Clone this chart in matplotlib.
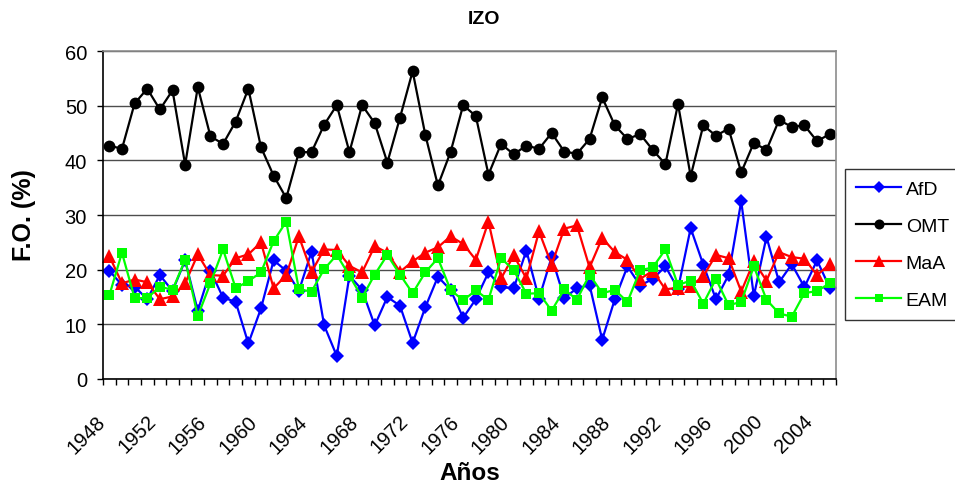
import numpy as np
import matplotlib
matplotlib.use("Agg")
import matplotlib.pyplot as plt
from matplotlib.transforms import ScaledTranslation

plt.rcParams['font.family'] = ['Liberation Sans', 'DejaVu Sans']

years = list(range(1948, 2006))
tick_years = list(range(1948, 2005, 4))

afd = [19.8, 17.2, 16.9, 14.6, 19.0, 16.1, 21.7, 12.5, 19.8, 14.9,
       14.1, 6.5, 12.9, 21.7, 19.8, 16.1, 23.3, 9.8, 4.2, 18.9,
       16.3, 9.8, 15.0, 13.4, 6.6, 13.1, 18.7, 16.3, 11.2, 14.6,
       19.5, 16.8, 16.6, 23.5, 14.7, 22.3, 14.8, 16.6, 17.2, 7.2,
       14.6, 20.6, 17.1, 18.3, 20.6, 16.5, 27.6, 20.9, 14.6, 19.0,
       32.5, 15.2, 26.0, 17.7, 21.0, 16.8, 21.7, 16.7]
omt = [42.7, 42.1, 50.4, 53.1, 49.3, 52.8, 39.2, 53.4, 44.4, 43.0,
       47.1, 53.1, 42.4, 37.2, 33.1, 41.5, 41.5, 46.5, 50.1, 41.5,
       50.1, 46.8, 39.6, 47.8, 56.3, 44.7, 35.4, 41.5, 50.1, 48.1,
       37.4, 43.0, 41.1, 42.7, 42.1, 45.0, 41.6, 41.2, 43.9, 51.5,
       46.4, 43.9, 44.8, 41.9, 39.3, 50.3, 37.1, 46.4, 44.5, 45.8,
       37.8, 43.2, 41.9, 47.4, 46.1, 46.4, 43.5, 44.8]
maa = [22.5, 17.5, 18.2, 17.7, 14.6, 15.1, 17.5, 22.8, 19.0, 18.9,
       22.1, 22.8, 25.0, 16.6, 19.0, 26.1, 19.6, 23.7, 23.6, 20.7,
       19.5, 24.3, 23.1, 19.6, 21.5, 23.1, 24.1, 26.1, 24.7, 21.8,
       28.8, 18.4, 22.6, 18.4, 27.0, 20.9, 27.5, 28.1, 20.4, 25.8,
       23.2, 21.8, 18.3, 19.8, 16.4, 16.7, 17.0, 18.8, 22.7, 22.1,
       16.0, 21.5, 18.0, 23.2, 22.3, 22.0, 19.0, 21.0]
eam = [15.3, 23.1, 14.8, 14.8, 16.9, 16.3, 21.8, 11.5, 17.5, 23.7,
       16.6, 17.9, 19.5, 25.2, 28.8, 16.4, 16.0, 20.1, 22.7, 18.9,
       14.9, 19.1, 22.7, 19.1, 15.7, 19.5, 22.1, 16.3, 14.4, 16.2,
       14.5, 22.1, 19.9, 15.6, 15.7, 12.5, 16.4, 14.5, 19.1, 15.7,
       16.3, 14.1, 19.9, 20.4, 23.7, 17.2, 18.0, 13.8, 18.3, 13.5,
       14.1, 20.6, 14.5, 12.0, 11.4, 15.7, 16.1, 17.5]

series = [
    ("AfD", afd, "#0000FF", "D", 7.5),
    ("OMT", omt, "#000000", "o", 8.5),
    ("MaA", maa, "#FF0000", "^", 9.5),
    ("EAM", eam, "#00FF00", "s", 7.5),
]

fig = plt.figure(figsize=(9.55, 4.89), dpi=100)
ax = fig.add_axes([103/955, 1-380/489, (836-103)/955, (380-52)/489])

x = np.arange(len(years))
handles = []
for name, vals, col, mk, ms in series:
    h, = ax.plot(x, vals, color=col, marker=mk, markersize=ms, linewidth=1.6,
                 markeredgewidth=0, label=name, clip_on=False)
    handles.append(h)

ax.set_xlim(-0.5, len(years) - 0.5)
ax.set_ylim(0, 60)
ax.set_yticks(range(0, 61, 10))
ax.yaxis.grid(True, color='#4d4d4d', linewidth=1.0)
ax.set_axisbelow(True)

ax.set_xticks([years.index(y) for y in tick_years])
ax.set_xticklabels([str(y) for y in tick_years], rotation=45, ha='right',
                   va='center', rotation_mode='anchor', fontsize=14.5)
ax.set_xticks(np.arange(-0.5, len(years), 1), minor=True)
ax.tick_params(axis='x', which='major', length=0, pad=18)
ax.tick_params(axis='x', which='minor', length=4.5, width=1, direction='out', color='black')
ax.tick_params(axis='y', which='major', length=4.5, width=1, direction='out', labelsize=14.5, pad=7)

off = ScaledTranslation(-7/100, -14/100, fig.dpi_scale_trans)
for lab in ax.get_xticklabels():
    lab.set_transform(lab.get_transform() + off)

for s in ['left', 'bottom']:
    ax.spines[s].set_color('black')
    ax.spines[s].set_linewidth(1.2)
for s in ['right', 'top']:
    ax.spines[s].set_color('#8c8c8c')
    ax.spines[s].set_linewidth(1.2)

fig.text(484/955, 1-19/489, "IZO", ha='center', va='center', fontsize=14, fontweight='bold')
fig.text(470/955, 1-474/489, "Años", ha='center', va='center', fontsize=17.5, fontweight='bold')
fig.text(24/955, 1-215/489, "F.O. (%)", ha='center', va='center', fontsize=18,
         fontweight='bold', rotation=90)

leg = fig.legend(handles=handles, loc='upper left', bbox_to_anchor=(845/955, 1-170/489),
                 frameon=True, fancybox=False, edgecolor='black', fontsize=14,
                 handlelength=2.3, handletextpad=0.25, labelspacing=1.0,
                 borderpad=0.58, borderaxespad=0, markerscale=0.85)
leg.get_frame().set_linewidth(1.0)

fig.savefig("out.png", dpi=100)
